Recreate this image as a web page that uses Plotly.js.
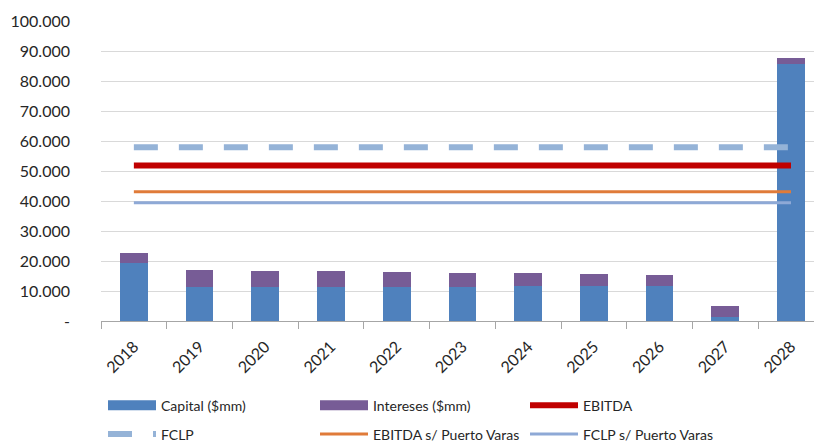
<!DOCTYPE html>
<html>
<head>
<meta charset="utf-8">
<script src="https://cdn.plot.ly/plotly-3.0.1.min.js"></script>
<style>html,body{margin:0;padding:0;background:#fff;}#chart{width:814px;height:444px;}</style>
</head>
<body>
<div id="chart"></div>
<script>
var years = ['2018','2019','2020','2021','2022','2023','2024','2025','2026','2027','2028'];
var capital   = [19400, 11400, 11400, 11400, 11400, 11400, 11800, 11800, 11800, 1400, 85800];
var intereses = [3400, 5600, 5300, 5300, 4900, 4700, 4300, 4000, 3600, 3700, 1800];
var ebitda    = [51800, 51800, 51800, 51800, 51800, 51800, 51800, 51800, 51800, 51800, 51800];
var fclp      = [57900, 57900, 57900, 57900, 57900, 57900, 57900, 57900, 57900, 57900, 57900];
var ebitdaPV  = [43100, 43100, 43100, 43100, 43100, 43100, 43100, 43100, 43100, 43100, 43100];
var fclpPV    = [39400, 39400, 39400, 39400, 39400, 39400, 39400, 39400, 39400, 39400, 39400];
var yTickVals = [0, 10000, 20000, 30000, 40000, 50000, 60000, 70000, 80000, 90000, 100000];
var yTickText = ['-', '10.000', '20.000', '30.000', '40.000', '50.000', '60.000', '70.000', '80.000', '90.000', '100.000'];

var cCap = '#4F81BD', cInt = '#775C96', cEb = '#C00000', cFc = '#95B3D7', cEbPV = '#E07B39', cFcPV = '#8EA9D6';
var font = 'Lato, "Open Sans", sans-serif';

var traces = [
  {type:'bar', x:years, y:capital, name:'Capital ($mm)', marker:{color:cCap}, showlegend:false},
  {type:'bar', x:years, y:intereses, name:'Intereses ($mm)', marker:{color:cInt}, showlegend:false},
  {type:'scatter', mode:'lines', x:years, y:fclp, name:'FCLP', line:{color:cFc, width:6, dash:'24px,21px'}, legend:'legend4'},
  {type:'scatter', mode:'lines', x:years, y:ebitdaPV, name:'EBITDA s/ Puerto Varas', line:{color:cEbPV, width:3}, legend:'legend5'},
  {type:'scatter', mode:'lines', x:years, y:fclpPV, name:'FCLP s/ Puerto Varas', line:{color:cFcPV, width:3}, legend:'legend6'},
  {type:'scatter', mode:'lines', x:years, y:ebitda, name:'EBITDA', line:{color:cEb, width:6}, legend:'legend3'},
  // legend-only entries for the bars (wide swatches)
  {type:'scatter', mode:'lines', x:[null], y:[null], name:'Capital ($mm)', line:{color:cCap, width:10}, legend:'legend'},
  {type:'scatter', mode:'lines', x:[null], y:[null], name:'Intereses ($mm)', line:{color:cInt, width:10}, legend:'legend2'}
];

function leg(x, y) {
  return {orientation:'h', xref:'container', yref:'container', xanchor:'left', yanchor:'middle',
          x:x, y:y, itemwidth:48, bgcolor:'rgba(0,0,0,0)',
          font:{family:font, size:14, color:'#262626'}};
}
var y1 = 1 - 405.7/444, y2 = 1 - 434.5/444;
var c1 = 103/814, c2 = 315/814, c3 = 525/814;

var layout = {
  width:814, height:444,
  margin:{l:101, r:0, t:21, b:123, pad:0},
  paper_bgcolor:'#fff', plot_bgcolor:'#fff',
  barmode:'stack', bargap:0.58,
  separators:',.',
  font:{family:font, size:16, color:'#404040'},
  xaxis:{type:'category', range:[-0.5, 10.35], tickson:'boundaries', ticks:'outside', ticklen:7, tickcolor:'#A6A6A6',
         showline:true, linecolor:'#A6A6A6', linewidth:1, showgrid:false, tickangle:-45, ticklabelstandoff:9,
         tickfont:{family:font, size:16, color:'#262626'}, fixedrange:true},
  yaxis:{range:[0, 100000], tickvals:yTickVals, ticktext:yTickText, showgrid:true, gridcolor:'#D9D9D9', gridwidth:1,
         zeroline:false, showline:false, ticks:'', ticklabelstandoff:30,
         tickfont:{family:font, size:16, color:'#262626'}, fixedrange:true},
  legend: leg(c1, y1),
  legend2: leg(c2, y1),
  legend3: leg(c3, y1),
  legend4: leg(c1, y2),
  legend5: leg(c2, y2),
  legend6: leg(c3, y2),
  showlegend:true
};

Plotly.newPlot('chart', traces, layout, {displayModeBar:false, staticPlot:true});
</script>
</body>
</html>
